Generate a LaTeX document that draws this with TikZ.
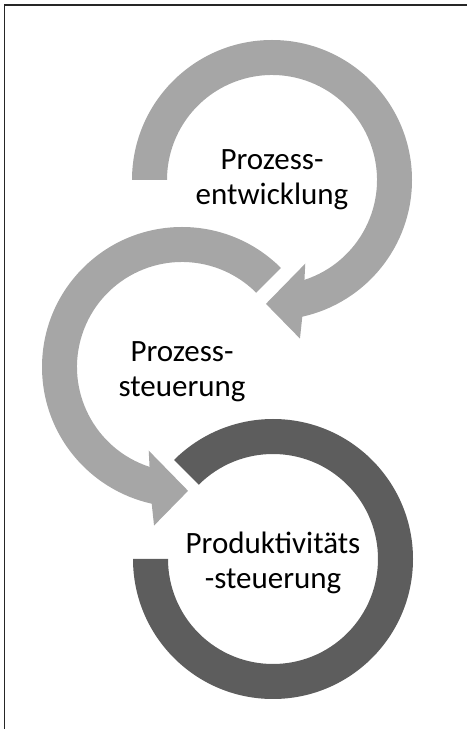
\documentclass[tikz,border=0pt]{standalone}
\usepackage{fontspec}
\setmainfont{Carlito}
\usetikzlibrary{calc}
\definecolor{lightarc}{HTML}{A6A6A6}
\definecolor{darkarc}{HTML}{5D5D5D}
\tikzstyle{ring_light} = [fill=lightarc, draw=none]
\tikzstyle{ring_dark} = [fill=darkarc, draw=none]
\tikzstyle{phase} = [align=center, text=black, inner sep=0pt, font=\fontsize{31}{35}\selectfont]
\begin{document}
\begin{tikzpicture}[x=1pt, y=1pt]
	\useasboundingbox (0,0) rectangle (467,729);
	\draw [line width=1.2pt, black!85] (4.5,0) -- (4.5,724) -- (467,724);

	\coordinate (c1) at (272,549);
	\coordinate (c2) at (182,362);
	\coordinate (c3) at (273,170);

	% Prozessentwicklung
	\fill [ring_light] ($(c1)+(180:140)$) arc [start angle=180, end angle=-77.5, radius=140]
		-- ($(c1)+(-80:161)$) -- ($(c1)+(-92.8:124)$) -- ($(c1)+(-68.3:90)$)
		-- ($(c1)+(-72:105)$) arc [start angle=-72, end angle=180, radius=105] -- cycle;

	% Prozesssteuerung
	\fill [ring_light] ($(c2)+(45:140)$) arc [start angle=45, end angle=257.5, radius=140]
		-- ($(c2)+(-100:161)$) -- ($(c2)+(-87.2:124)$) -- ($(c2)+(-111.7:90)$)
		-- ($(c2)+(-108:105)$) arc [start angle=252, end angle=45, radius=105] -- cycle;

	% Produktivitaetssteuerung
	\fill [ring_dark] ($(c3)+(180:140)$) arc [start angle=180, end angle=495, radius=140]
		-- ($(c3)+(135:105)$) arc [start angle=135, end angle=-180, radius=105] -- cycle;

	\node [phase] (t1) at (c1) {Prozess-\\entwicklung};
	\node [phase, yshift=-5pt] (t2) at (c2) {Prozess-\\steuerung};
	\node [phase, yshift=-4pt] (t3) at (c3) {Produktivitäts\\-steuerung};
\end{tikzpicture}
\end{document}
